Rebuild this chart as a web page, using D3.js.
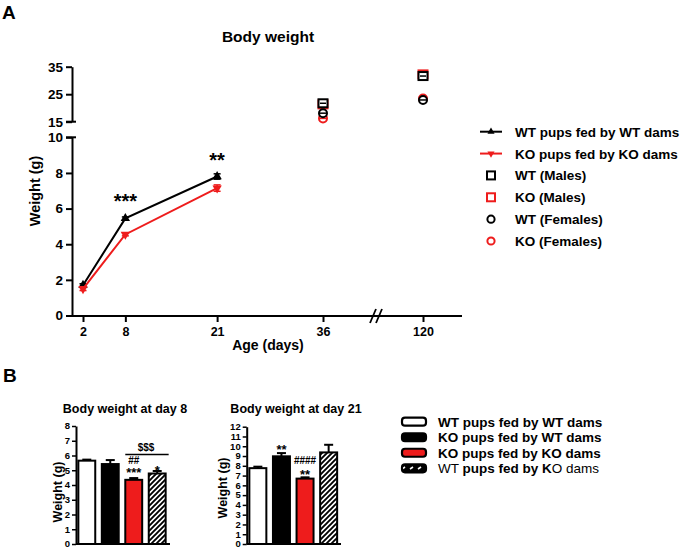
<!DOCTYPE html>
<html><head><meta charset="utf-8">
<script src="https://cdn.jsdelivr.net/npm/d3@7"></script>
<style>
body{margin:0;background:#fff;}
svg{display:block;font-family:"Liberation Sans",Arial,Helvetica,sans-serif;font-weight:bold;}
</style></head><body>
<svg id="c" width="685" height="549"></svg>
<script>
// ---------- Panel A data ----------
const lineDays = [2, 8, 21];
const wtLine = [1.70, 5.45, 7.80];
const wtLineErr = [0.08, 0.08, 0.15];
const koLine = [1.50, 4.55, 7.15];
const koLineErr = [0.10, 0.08, 0.18];
const scatterDays = [36, 120];
const wtMales = [21.7, 31.6];
const koMales = [21.3, 32.2];
const wtFemales = [18.1, 22.9];
const koFemales = [16.2, 23.4];
const xTicks = [2, 8, 21, 36, 120];
const yTicksLow = [0, 2, 4, 6, 8, 10];
const yTicksHigh = [15, 25, 35];
const sigA = [{day: 8, text: "***"}, {day: 21, text: "**"}];
const legendA = ["WT pups fed by WT dams", "KO pups fed by KO dams", "WT (Males)", "KO (Males)", "WT (Females)", "KO (Females)"];

// ---------- Panel B data ----------
const barGroups = ["WT pups fed by WT dams", "KO pups fed by WT dams", "KO pups fed by KO dams", "WT pups fed by KO dams"];
const day8Values = [5.65, 5.42, 4.35, 4.78];
const day8Err = [0.07, 0.27, 0.12, 0.17];
const day21Values = [7.76, 8.97, 6.69, 9.37];
const day21Err = [0.15, 0.33, 0.13, 0.78];
const day8Ticks = [0, 1, 2, 3, 4, 5, 6, 7, 8];
const day21Ticks = [0, 1, 2, 3, 4, 5, 6, 7, 8, 9, 10, 11, 12];

const svg = d3.select("#c");
const RED = "#ee1c1c";

// ---------- Panel A ----------
svg.append("text").attr("x", 2).attr("y", 19).attr("font-size", 19).text("A");
svg.append("text").attr("x", 268).attr("y", 42).attr("text-anchor", "middle").attr("font-size", 15.5).text("Body weight");

const x = d3.scaleLinear().domain([2, 36, 120]).range([83, 323, 423]);
const yLow = d3.scaleLinear().domain([0, 10]).range([315.5, 137.3]);
const yHigh = d3.scaleLinear().domain([15, 35]).range([121.7, 66.7]);
const axX = 72, axY = 316;

function styleAxis(g, fs) {
  g.select(".domain").attr("stroke-width", 2);
  g.selectAll(".tick line").attr("stroke-width", 2);
  g.selectAll(".tick text").attr("font-size", fs).attr("font-weight", "bold").attr("font-family", "Liberation Sans, Arial, sans-serif").attr("fill", "#000");
}
const gyl = svg.append("g").attr("transform", `translate(${axX},0)`)
  .call(d3.axisLeft(yLow).tickValues(yTicksLow).tickSize(6).tickPadding(3).tickSizeOuter(0));
styleAxis(gyl, 13.5);
const gyh = svg.append("g").attr("transform", `translate(${axX},0)`)
  .call(d3.axisLeft(yHigh).tickValues(yTicksHigh).tickSize(6).tickPadding(3).tickSizeOuter(0));
styleAxis(gyh, 13.5);
// break marks on y axis
[yHigh(15), yLow(10)].forEach(v => {
  svg.append("line").attr("x1", axX - 6).attr("x2", axX + 4).attr("y1", v).attr("y2", v).attr("stroke", "#000").attr("stroke-width", 2);
});

const gx = svg.append("g").attr("transform", `translate(0,${axY})`)
  .call(d3.axisBottom(x).tickValues(xTicks).tickSize(6).tickPadding(5).tickSizeOuter(0));
gx.select(".domain").attr("d", `M${axX},0H462`);
styleAxis(gx, 12.5);
// x axis break "//"
[373, 379].forEach(bx => {
  svg.append("line").attr("x1", bx - 3).attr("y1", axY + 7).attr("x2", bx + 3).attr("y2", axY - 7).attr("stroke", "#000").attr("stroke-width", 1.8);
});

svg.append("text").attr("x", 268).attr("y", 350).attr("text-anchor", "middle").attr("font-size", 14).text("Age (days)");
svg.append("text").attr("transform", "translate(40,191) rotate(-90)").attr("text-anchor", "middle").attr("font-size", 14.5).text("Weight (g)");

function drawLineSeries(vals, errs, color, rot) {
  const pts = lineDays.map((d, i) => ({d, v: vals[i], e: errs[i]}));
  svg.append("path").datum(pts).attr("fill", "none").attr("stroke", color).attr("stroke-width", 2)
    .attr("d", d3.line().x(p => x(p.d)).y(p => yLow(p.v)));
  pts.forEach(p => {
    const cx = x(p.d);
    svg.append("line").attr("x1", cx).attr("x2", cx).attr("y1", yLow(p.v - p.e)).attr("y2", yLow(p.v + p.e)).attr("stroke", color).attr("stroke-width", 1.5);
    [p.v - p.e, p.v + p.e].forEach(c => svg.append("line").attr("x1", cx - 3.5).attr("x2", cx + 3.5).attr("y1", yLow(c)).attr("y2", yLow(c)).attr("stroke", color).attr("stroke-width", 1.5));
    svg.append("path").attr("d", d3.symbol().type(d3.symbolTriangle).size(38)())
      .attr("transform", `translate(${cx},${yLow(p.v)}) rotate(${rot})`).attr("fill", color);
  });
}
drawLineSeries(wtLine, wtLineErr, "#000", 0);
drawLineSeries(koLine, koLineErr, RED, 180);

sigA.forEach(s => {
  const i = lineDays.indexOf(s.day);
  svg.append("text").attr("x", x(s.day)).attr("y", yLow(wtLine[i]) - 10).attr("text-anchor", "middle").attr("font-size", 20).text(s.text);
});

function drawScatter(vals, color, shape) {
  scatterDays.forEach((d, i) => {
    const cx = x(d), cy = yHigh(vals[i]);
    if (shape === "square") {
      svg.append("rect").attr("x", cx - 4.5).attr("y", cy - 4).attr("width", 9).attr("height", 8).attr("fill", "#fff").attr("stroke", color).attr("stroke-width", 2);
    } else {
      svg.append("circle").attr("cx", cx).attr("cy", cy).attr("r", 4).attr("fill", "#fff").attr("stroke", color).attr("stroke-width", 2);
    }
    svg.append("line").attr("x1", cx - 3).attr("x2", cx + 3).attr("y1", cy).attr("y2", cy).attr("stroke", color).attr("stroke-width", 1.5);
  });
}
drawScatter(koMales, RED, "square");
drawScatter(wtMales, "#000", "square");
drawScatter(koFemales, RED, "circle");
drawScatter(wtFemales, "#000", "circle");

// legend A
const legA = svg.append("g");
const legAY = d3.scaleLinear().domain([0, 5]).range([131.7, 241]);
legendA.forEach((t, i) => {
  const cy = legAY(i), cx = 491;
  if (i < 2) {
    const col = i === 0 ? "#000" : RED;
    legA.append("line").attr("x1", 480).attr("x2", 502).attr("y1", cy).attr("y2", cy).attr("stroke", col).attr("stroke-width", 2);
    legA.append("path").attr("d", d3.symbol().type(d3.symbolTriangle).size(22)())
      .attr("transform", `translate(${cx},${cy}) rotate(${i === 0 ? 0 : 180})`).attr("fill", col);
  } else if (i < 4) {
    legA.append("rect").attr("x", cx - 4).attr("y", cy - 4).attr("width", 8).attr("height", 8).attr("fill", "#fff").attr("stroke", i === 2 ? "#000" : RED).attr("stroke-width", 2);
  } else {
    legA.append("circle").attr("cx", cx).attr("cy", cy).attr("r", 3.6).attr("fill", "#fff").attr("stroke", i === 4 ? "#000" : RED).attr("stroke-width", 2);
  }
  legA.append("text").attr("x", 515).attr("y", cy + 5).attr("font-size", 13.5).text(t);
});

// ---------- Panel B ----------
svg.append("text").attr("x", 3).attr("y", 382).attr("font-size", 19).text("B");

const defs = svg.append("defs");
const pat = defs.append("pattern").attr("id", "hatch").attr("patternUnits", "userSpaceOnUse").attr("width", 5).attr("height", 5);
pat.append("rect").attr("width", 5).attr("height", 5).attr("fill", "#fff");
pat.append("path").attr("d", "M-1,6 L6,-1 M-2,2 L2,-2 M3,7 L7,3").attr("stroke", "#000").attr("stroke-width", 1.9);
const pat2 = defs.append("pattern").attr("id", "hatchL").attr("patternUnits", "userSpaceOnUse").attr("width", 8).attr("height", 8);
pat2.append("rect").attr("width", 8).attr("height", 8).attr("fill", "#000");
pat2.append("path").attr("d", "M2,5 L5,3").attr("stroke", "#fff").attr("stroke-width", 1.6);

const fills = ["#fff", "#000", RED, "url(#hatch)"];

function barChart(opts) {
  const {title, titleX, values, errs, ticks, axisX, xEnd, yRange, bandRange, ylabelX, ylabelY, notes} = opts;
  const y = d3.scaleLinear().domain([0, ticks[ticks.length - 1]]).range(yRange);
  const xb = d3.scaleBand().domain(barGroups).range(bandRange).paddingInner(0.28).paddingOuter(0.1);
  const g = svg.append("g");
  g.append("text").attr("x", titleX).attr("y", 413).attr("text-anchor", "middle").attr("font-size", 12.5).text(title);
  const ga = g.append("g").attr("transform", `translate(${axisX},0)`)
    .call(d3.axisLeft(y).tickValues(ticks).tickSize(4).tickPadding(2).tickSizeOuter(0));
  ga.select(".domain").attr("stroke-width", 2);
  ga.selectAll(".tick line").attr("stroke-width", 1.5);
  ga.selectAll(".tick text").attr("font-size", 9.5).attr("dy", "0.3em").attr("font-weight", "bold").attr("font-family", "Liberation Sans, Arial, sans-serif").attr("fill", "#000");
  g.append("line").attr("x1", axisX).attr("x2", xEnd).attr("y1", yRange[0]).attr("y2", yRange[0]).attr("stroke", "#000").attr("stroke-width", 2);
  g.append("text").attr("transform", `translate(${ylabelX},${ylabelY}) rotate(-90)`).attr("text-anchor", "middle").attr("font-size", 12.5).text("Weight (g)");
  barGroups.forEach((k, i) => {
    const bx = xb(k), bw = xb.bandwidth(), cx = bx + bw / 2;
    const top = y(values[i] + errs[i]);
    g.append("line").attr("x1", cx).attr("x2", cx).attr("y1", y(values[i])).attr("y2", top).attr("stroke", "#000").attr("stroke-width", 2);
    g.append("line").attr("x1", cx - 4.5).attr("x2", cx + 4.5).attr("y1", top).attr("y2", top).attr("stroke", "#000").attr("stroke-width", 2);
    g.append("rect").attr("x", bx).attr("y", y(values[i])).attr("width", bw).attr("height", yRange[0] - y(values[i]))
      .attr("fill", fills[i]).attr("stroke", "#000").attr("stroke-width", 2);
  });
  notes.forEach(n => {
    const cx = xb(barGroups[n.bar]) + xb.bandwidth() / 2;
    g.append("text").attr("x", cx).attr("y", y(values[n.bar] + errs[n.bar]) - n.off).attr("text-anchor", "middle").attr("font-size", n.fs).text(n.text);
  });
  return {y, xb, g};
}

const b8 = barChart({
  title: "Body weight at day 8", titleX: 125, values: day8Values, errs: day8Err, ticks: day8Ticks,
  axisX: 76, xEnd: 170, yRange: [544, 426], bandRange: [76, 168], ylabelX: 62, ylabelY: 492,
  notes: [{bar: 2, text: "***", off: 1, fs: 13}, {bar: 2, text: "##", off: 14.5, fs: 10}, {bar: 3, text: "*", off: -4, fs: 13}]
});
// $$$ bracket over bars 3-4
{
  const x1 = b8.xb(barGroups[2]), x2 = b8.xb(barGroups[3]) + b8.xb.bandwidth() + 3;
  b8.g.append("line").attr("x1", x1).attr("x2", x2).attr("y1", 454.5).attr("y2", 454.5).attr("stroke", "#000").attr("stroke-width", 1.5);
  b8.g.append("text").attr("x", (x1 + x2) / 2 - 1).attr("y", 451).attr("text-anchor", "middle").attr("font-size", 10).text("$$$");
}

barChart({
  title: "Body weight at day 21", titleX: 296, values: day21Values, errs: day21Err, ticks: day21Ticks,
  axisX: 246.7, xEnd: 341, yRange: [544, 426.7], bandRange: [247, 339.5], ylabelX: 227, ylabelY: 488,
  notes: [{bar: 1, text: "**", off: -0.5, fs: 13}, {bar: 2, text: "**", off: -1.5, fs: 13}, {bar: 2, text: "####", off: 13, fs: 10}]
});

// legend B
const legBY = d3.scaleLinear().domain([0, 3]).range([421.7, 468.3]);
const legFills = ["#fff", "#000", RED, "url(#hatchL)"];
barGroups.forEach((t, i) => {
  const cy = legBY(i);
  svg.append("rect").attr("x", 402).attr("y", cy - 4).attr("width", 24).attr("height", 8).attr("rx", 3)
    .attr("fill", legFills[i]).attr("stroke", "#000").attr("stroke-width", 2.2);
  const tx = svg.append("text").attr("x", 438).attr("y", cy + 5).attr("font-size", 13.5);
  if (i === 3) {
    tx.append("tspan").attr("font-weight", "normal").text("WT ");
    tx.append("tspan").attr("font-weight", "bold").text("pups fed by K");
    tx.append("tspan").attr("font-weight", "normal").text("O dams");
  } else {
    tx.text(t);
  }
});
</script>
</body></html>
